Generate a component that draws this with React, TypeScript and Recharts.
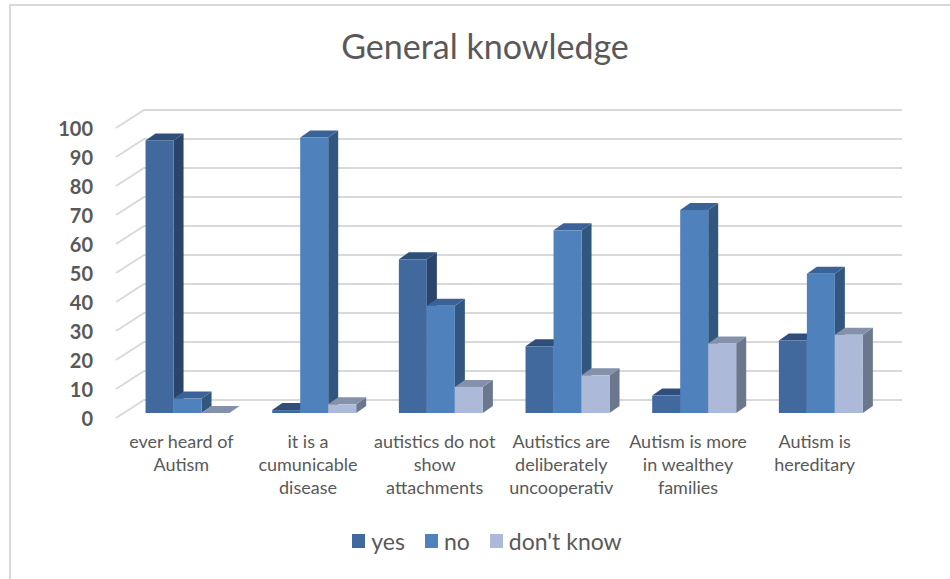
import { BarChart, Bar, XAxis, YAxis, CartesianGrid } from 'recharts';

const categories = [
  'ever heard of Autism',
  'it is a cumunicable disease',
  'autistics do not show attachments',
  'Autistics are deliberately uncooperativ',
  'Autism is more in wealthey families',
  'Autism is hereditary',
];

const categoryLines = [
  ['ever heard of', 'Autism'],
  ['it is a', 'cumunicable', 'disease'],
  ['autistics do not', 'show', 'attachments'],
  ['Autistics are', 'deliberately', 'uncooperativ'],
  ['Autism is more', 'in wealthey', 'families'],
  ['Autism is', 'hereditary'],
];

const yesValues = [94, 1, 53, 23, 6, 25];
const noValues = [5, 95, 37, 63, 70, 48];
const dontKnowValues = [0, 3, 9, 13, 24, 27];

const yTicks = [0, 10, 20, 30, 40, 50, 60, 70, 80, 90, 100];

const data = categories.map((name, i) => ({
  name,
  yes: yesValues[i],
  no: noValues[i],
  dontKnow: dontKnowValues[i],
}));

const FONT = 'Lato, "Open Sans", sans-serif';
const TEXT = '#595959';
const GRID = '#d9d9d9';

// depth of the fake 3d bars
const DX = 10;
const DY = 7;

function bar3d(front: string, top: string, side: string) {
  return (props: any) => {
    const { x, y, width, height } = props;
    if (x == null || y == null) return <g />;
    const h = Math.max(height || 0, 0);
    return (
      <g>
        <polygon
          points={`${x + width},${y} ${x + width + DX},${y - DY} ${x + width + DX},${y + h - DY} ${x + width},${y + h}`}
          fill={side}
        />
        <polygon
          points={`${x},${y} ${x + DX},${y - DY} ${x + width + DX},${y - DY} ${x + width},${y}`}
          fill={top}
        />
        <rect x={x} y={y} width={width} height={h} fill={front} />
      </g>
    );
  };
}

// gridline: slanted piece on the side wall, then straight across the back wall
const gridLine = (props: any) => {
  const { x1, x2, y1, key } = props;
  return (
    <polyline
      key={key}
      points={`${x1 - 8},${y1 + 5} ${x1 + 20},${y1 - 13} ${x2 + 18},${y1 - 13}`}
      fill="none"
      stroke={GRID}
      strokeWidth={2}
    />
  );
};

const YTick = (props: any) => {
  const { y, payload } = props;
  return (
    <text
      x={93}
      y={y + 5}
      textAnchor="end"
      dominantBaseline="central"
      fill={TEXT}
      fontSize={20}
      fontWeight="bold"
      fontFamily={FONT}
    >
      {payload.value}
    </text>
  );
};

const XTick = (props: any) => {
  const { x, payload } = props;
  const lines = categoryLines[payload.index] || [payload.value];
  return (
    <text x={x - 6} y={448} textAnchor="middle" fill={TEXT} fontSize={18} fontFamily={FONT}>
      {lines.map((l: string, i: number) => (
        <tspan key={i} x={x - 6} dy={i === 0 ? 0 : 23}>
          {l}
        </tspan>
      ))}
    </text>
  );
};

const legendItems = [
  { label: 'yes', color: '#41699e' },
  { label: 'no', color: '#4f81bd' },
  { label: "don't know", color: '#adb9d8' },
];

export default function App() {
  return (
    <div
      style={{
        position: 'absolute',
        left: 0,
        top: 0,
        width: 950,
        height: 579,
        background: '#fff',
        overflow: 'hidden',
        fontFamily: FONT,
      }}
    >
      <div
        style={{
          position: 'absolute',
          left: 9,
          top: 4,
          width: 1000,
          height: 700,
          borderTop: '2px solid #d9d9d9',
          borderLeft: '2px solid #d9d9d9',
        }}
      />
      <div
        style={{
          position: 'absolute',
          left: 0,
          top: 25,
          width: 970,
          textAlign: 'center',
          fontSize: 34,
          color: TEXT,
        }}
      >
        General knowledge
      </div>
      <div style={{ position: 'absolute', left: 0, top: 0 }}>
        <BarChart
          width={950}
          height={579}
          data={data}
          margin={{ top: 123, right: 66, bottom: 106, left: 64 }}
          barCategoryGap="17%"
          barGap={0}
        >
          <CartesianGrid vertical={false} horizontal={gridLine} />
          <XAxis
            dataKey="name"
            interval={0}
            height={60}
            axisLine={false}
            tickLine={false}
            tick={XTick}
          />
          <YAxis
            domain={[0, 100]}
            ticks={yTicks}
            width={60}
            axisLine={false}
            tickLine={false}
            tick={YTick}
          />
          <Bar dataKey="yes" isAnimationActive={false} shape={bar3d('#41699e', '#2f4e7a', '#2a446b')} />
          <Bar dataKey="no" isAnimationActive={false} shape={bar3d('#4f81bd', '#3b6296', '#32577f')} />
          <Bar dataKey="dontKnow" isAnimationActive={false} shape={bar3d('#adb9d8', '#8591aa', '#6b778c')} />
        </BarChart>
      </div>
      <div
        style={{
          position: 'absolute',
          left: 12,
          top: 527,
          width: 950,
          display: 'flex',
          justifyContent: 'center',
          alignItems: 'center',
          fontSize: 23,
          color: TEXT,
        }}
      >
        {legendItems.map((it) => (
          <div key={it.label} style={{ display: 'flex', alignItems: 'center', margin: '0 10px' }}>
            <span style={{ display: 'inline-block', width: 13, height: 14, background: it.color, marginRight: 6 }} />
            <span>{it.label}</span>
          </div>
        ))}
      </div>
    </div>
  );
}
